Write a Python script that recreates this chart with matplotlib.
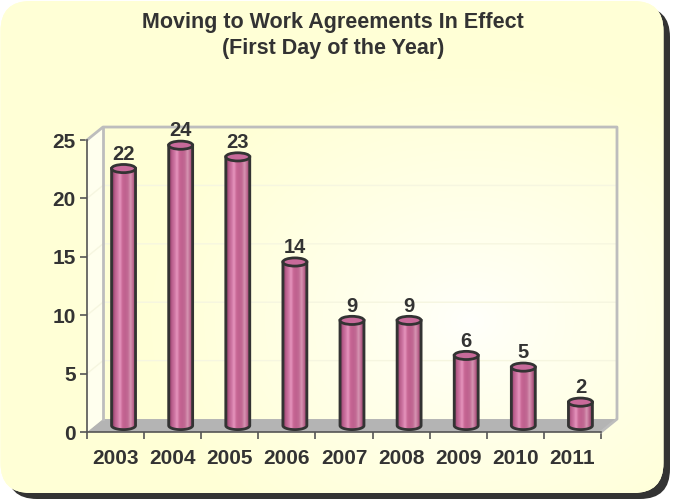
import numpy as np
import matplotlib.pyplot as plt
from matplotlib.patches import FancyBboxPatch, Polygon, Ellipse

plt.rcParams['font.family'] = ['Liberation Sans', 'DejaVu Sans']

# data
years = ['2003', '2004', '2005', '2006', '2007', '2008', '2009', '2010', '2011']
agreements = [22, 24, 23, 14, 9, 9, 6, 5, 2]
title_lines = ['Moving to Work Agreements In Effect', '(First Day of the Year)']

W, H = 674, 501
fig = plt.figure(figsize=(W / 100, H / 100), dpi=100)
fig.patch.set_facecolor('white')

# background panel (pixel coords, y up)
bg = fig.add_axes([0, 0, 1, 1])
bg.set_xlim(0, W)
bg.set_ylim(0, H)
bg.axis('off')

shadow = FancyBboxPatch((7, H - 499), 663, 492,
                        boxstyle='round,pad=0,rounding_size=30',
                        fc='#333333', ec='none')
bg.add_patch(shadow)
panel = FancyBboxPatch((0.5, H - 493), 663, 492,
                       boxstyle='round,pad=0,rounding_size=30',
                       fc='#FFFFD8', ec='none')
bg.add_patch(panel)

gx, gy = np.meshgrid(np.arange(W), np.arange(H))
d = np.sqrt(((gx - 470) / 330.0) ** 2 + ((gy - 180) / 260.0) ** 2)
t = np.clip(d, 0, 1) ** 0.8
edge = np.array([255, 255, 214]) / 255.0
centre = np.array([255, 255, 252]) / 255.0
grad = centre[None, None, :] * (1 - t[..., None]) + edge[None, None, :] * t[..., None]
im = bg.imshow(grad, extent=[0, W, H, 0], origin='upper', aspect='auto', zorder=1)
im.set_clip_path(panel)
bg.set_xlim(0, W)
bg.set_ylim(0, H)

# main axes
ax = fig.add_axes([87 / W, (H - 432) / H, (601 - 87) / W, (432 - 140) / H])
ax.patch.set_alpha(0)
n = len(years)
x = np.arange(n)
ax.set_xlim(-0.5, n - 0.5)
ax.set_ylim(0, 25)

dx, dy = 0.28, 1.11   # depth of the 3d box
wall = '#BDBDBD'

# floor
ax.add_patch(Polygon([(-0.5, 0), (n - 0.5, 0), (n - 0.5 + dx, dy), (-0.5 + dx, dy)],
                     closed=True, fc='#B4B4B4', ec='none', clip_on=False, zorder=1))
# left wall
ax.add_patch(Polygon([(-0.5, 0), (-0.5 + dx, dy), (-0.5 + dx, 25 + dy), (-0.5, 25)],
                     closed=True, fc='white', alpha=0.6, ec='none', clip_on=False, zorder=1))
# grid lines on the walls
for v in range(5, 25, 5):
    ax.plot([-0.5, -0.5 + dx, n - 0.5 + dx], [v, v + dy, v + dy], color='#F6F6E0',
            lw=1, clip_on=False, zorder=1.5)
# wall borders
ax.plot([-0.5, -0.5 + dx, n - 0.5 + dx, n - 0.5 + dx, n - 0.5],
        [25, 25 + dy, 25 + dy, dy, 0], color=wall, lw=2, clip_on=False, zorder=1.6)
ax.plot([-0.5 + dx, -0.5 + dx], [dy, 25 + dy], color=wall, lw=2, clip_on=False, zorder=1.6)

# cylinders
bw = 0.42
eh = 0.7
shade = np.array([
    [0.45, 0.20, 0.33],
    [0.72, 0.36, 0.54],
    [0.80, 0.45, 0.63],
    [0.90, 0.58, 0.74],
    [0.78, 0.40, 0.58],
    [0.75, 0.38, 0.56],
    [0.76, 0.42, 0.58],
    [0.84, 0.58, 0.70],
    [0.74, 0.40, 0.56],
    [0.50, 0.24, 0.36],
])
tt = np.linspace(0, 1, 100)
pos = np.linspace(0, 1, len(shade))
strip = np.stack([np.interp(tt, pos, shade[:, k]) for k in range(3)], axis=-1)[None, :, :]

for xi, v in zip(x, agreements):
    cx = xi + dx / 2
    b = dy / 2
    top = v + dy / 2
    th = np.linspace(np.pi, 2 * np.pi, 40)
    verts = [(cx - bw / 2, top)]
    verts += list(zip(cx + bw / 2 * np.cos(th), b + eh / 2 * np.sin(th)))
    verts += [(cx + bw / 2, top)]
    body = Polygon(verts, closed=True, fc='none', ec='#333333', lw=2,
                   clip_on=False, zorder=4, transform=ax.transData)
    img = ax.imshow(strip, extent=[cx - bw / 2, cx + bw / 2, b - eh / 2, top],
                    aspect='auto', zorder=3, clip_on=True)
    img.set_clip_path(body)
    ax.add_patch(body)
    ax.add_patch(Ellipse((cx, top), bw, eh, fc='#C86A9A', ec='#333333', lw=2,
                         clip_on=False, zorder=5))
    ax.text(cx, top + eh / 2 + 0.4, str(v), ha='center', va='baseline',
            fontsize=14.5, fontweight='bold', color='#333333', zorder=6)

ax.set_xlim(-0.5, n - 0.5)
ax.set_ylim(0, 25)

# axes styling
for s in ['top', 'right']:
    ax.spines[s].set_visible(False)
for s in ['left', 'bottom']:
    ax.spines[s].set_color('#555555')
    ax.spines[s].set_linewidth(1.2)
    ax.spines[s].set_zorder(2)

ax.set_yticks(range(0, 26, 5))
ax.set_xticks(np.arange(-0.5, n, 1.0))
ax.set_xticklabels([])
ax.set_xticks(x, minor=True)
ax.set_xticklabels(years, minor=True)
ax.tick_params(axis='y', length=5, width=1.2, color='#555555', pad=3,
               labelsize=15, labelcolor='#333333')
ax.tick_params(axis='x', which='major', length=5, width=1.2, color='#555555')
ax.tick_params(axis='x', which='minor', length=0, pad=12,
               labelsize=15, labelcolor='#333333')
for lab in ax.get_yticklabels() + ax.get_xticklabels(minor=True):
    lab.set_fontweight('bold')

fig.text(333 / W, 1 - 28 / H, title_lines[0], ha='center', va='baseline',
         fontsize=15.5, fontweight='bold', color='#333333')
fig.text(333 / W, 1 - 54 / H, title_lines[1], ha='center', va='baseline',
         fontsize=15.5, fontweight='bold', color='#333333')

fig.savefig('out.png', dpi=100)
